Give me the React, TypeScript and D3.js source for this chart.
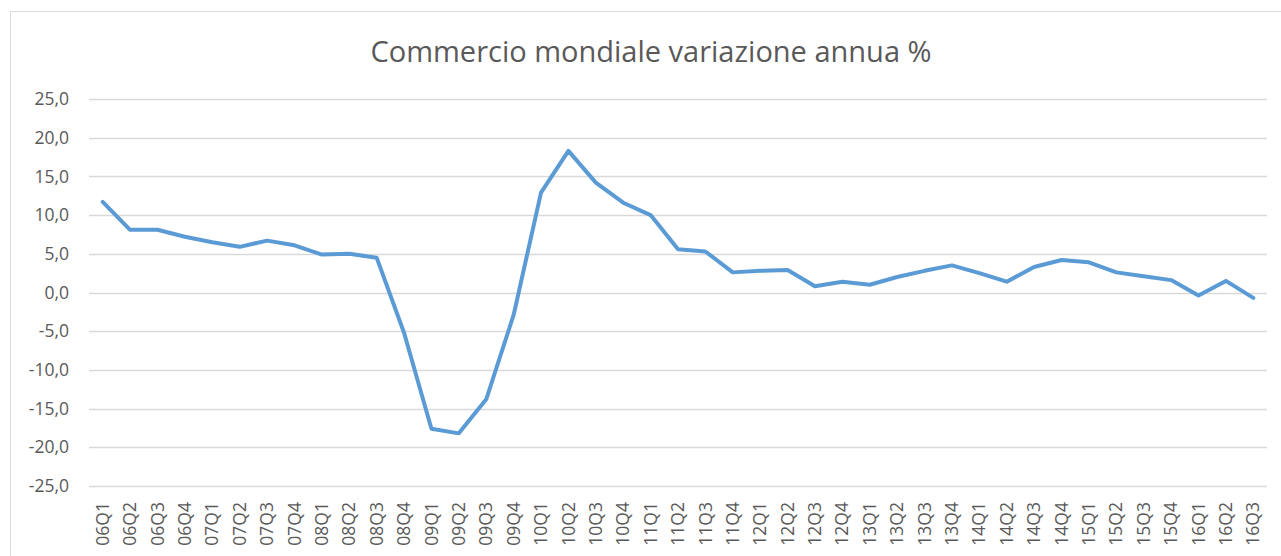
import React from "react";
import * as d3 from "d3";

const title = "Commercio mondiale variazione annua %";

const quarters = [
  "06Q1", "06Q2", "06Q3", "06Q4",
  "07Q1", "07Q2", "07Q3", "07Q4",
  "08Q1", "08Q2", "08Q3", "08Q4",
  "09Q1", "09Q2", "09Q3", "09Q4",
  "10Q1", "10Q2", "10Q3", "10Q4",
  "11Q1", "11Q2", "11Q3", "11Q4",
  "12Q1", "12Q2", "12Q3", "12Q4",
  "13Q1", "13Q2", "13Q3", "13Q4",
  "14Q1", "14Q2", "14Q3", "14Q4",
  "15Q1", "15Q2", "15Q3", "15Q4",
  "16Q1", "16Q2", "16Q3",
];

const values = [
  11.7, 8.1, 8.1, 7.2,
  6.5, 5.9, 6.7, 6.1,
  4.9, 5.0, 4.5, -5.2,
  -17.6, -18.2, -13.8, -2.9,
  12.9, 18.3, 14.2, 11.6,
  10.0, 5.6, 5.3, 2.6,
  2.8, 2.9, 0.8, 1.4,
  1.0, 2.0, 2.8, 3.5,
  2.5, 1.4, 3.3, 4.2,
  3.9, 2.6, 2.1, 1.6,
  -0.4, 1.5, -0.7,
];

const yTicks = [25, 20, 15, 10, 5, 0, -5, -10, -15, -20, -25];

const W = 1281;
const H = 556;
const left = 89;
const right = 1267;
const top = 99;
const bottom = 486;

const textColor = "#595959";
const gridColor = "#D9D9D9";
const lineColor = "#5B9BD5";
const font = "'Open Sans', sans-serif";

// Excel-style numbers: one decimal, comma separator
const fmt = (v: number) => d3.format(".1f")(v).replace(".", ",").replace("−", "-");

export default function App() {
  const x = d3.scaleBand<string>().domain(quarters).range([left, right]);
  const y = d3.scaleLinear().domain([-25, 25]).range([bottom, top]);

  const line = d3
    .line<number>()
    .x((_, i) => (x(quarters[i]) as number) + x.bandwidth() / 2)
    .y((d) => y(d));

  return (
    <svg
      width={W}
      height={H}
      style={{ position: "absolute", left: 0, top: 0, background: "#fff" }}
    >
      <rect
        x={10.5}
        y={11.5}
        width={W}
        height={H}
        fill="#fff"
        stroke={gridColor}
        strokeWidth={1}
      />
      <text
        x={651}
        y={62}
        textAnchor="middle"
        fontFamily={font}
        fontSize={29}
        fill={textColor}
      >
        {title}
      </text>
      {yTicks.map((t) => (
        <g key={t}>
          <line
            x1={left}
            x2={right}
            y1={Math.round(y(t)) + 0.5}
            y2={Math.round(y(t)) + 0.5}
            stroke={gridColor}
            strokeWidth={1.5}
          />
          <text
            x={69}
            y={y(t)}
            dy="0.35em"
            textAnchor="end"
            fontFamily={font}
            fontSize={17.5}
            fill={textColor}
          >
            {fmt(t)}
          </text>
        </g>
      ))}
      {quarters.map((q) => {
        const cx = (x(q) as number) + x.bandwidth() / 2;
        return (
          <text
            key={q}
            transform={`translate(${cx},502) rotate(-90)`}
            dy="0.35em"
            textAnchor="end"
            fontFamily={font}
            fontSize={17.5}
            fill={textColor}
          >
            {q}
          </text>
        );
      })}
      <path
        d={line(values) ?? ""}
        fill="none"
        stroke={lineColor}
        strokeWidth={4}
        strokeLinejoin="round"
        strokeLinecap="round"
      />
    </svg>
  );
}
